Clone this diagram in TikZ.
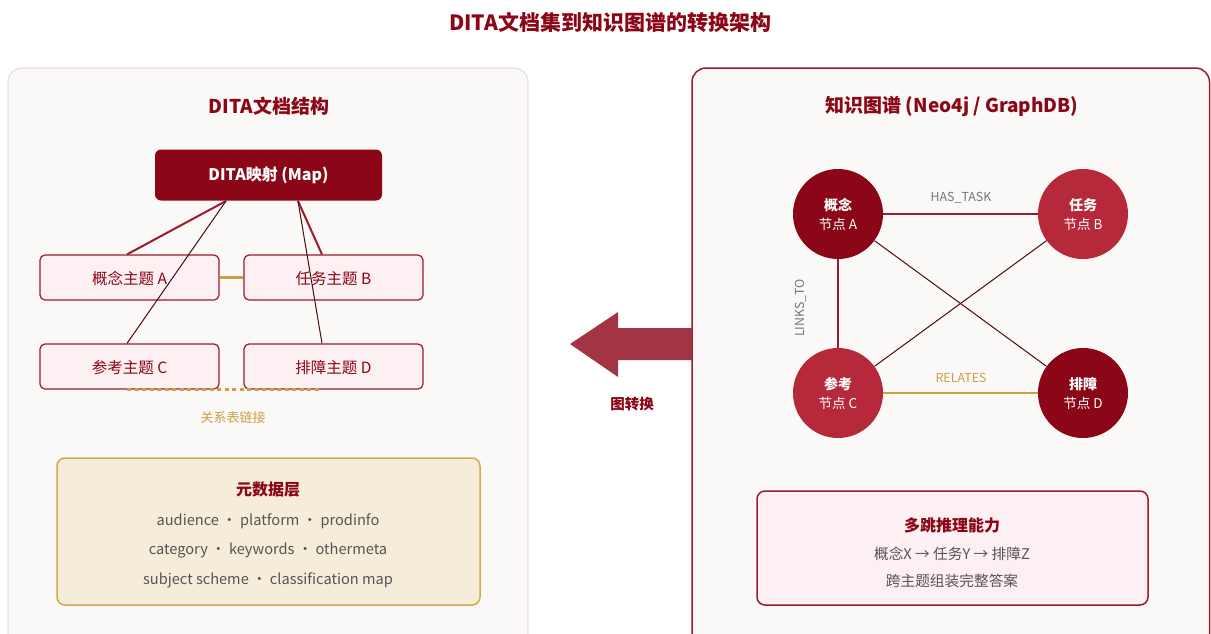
\documentclass[tikz,border=0pt]{standalone}
\usepackage{fontspec}
\setmainfont{Noto Sans CJK SC}
\definecolor{dred}{HTML}{8B0616}
\definecolor{mred}{HTML}{B5293A}
\definecolor{bred}{HTML}{9B1B2A}
\definecolor{gold}{HTML}{C9A045}
\definecolor{goldbd}{HTML}{D4A850}
\definecolor{pinkbg}{HTML}{FCF0F2}
\definecolor{panelbg}{HTML}{FBF9F7}
\definecolor{panelbd}{HTML}{E8DEDC}
\definecolor{metabg}{HTML}{F5ECD9}
\definecolor{txtgray}{HTML}{555555}
\definecolor{lblgray}{HTML}{777777}
\definecolor{arrowred}{HTML}{A23444}
\definecolor{thinline}{HTML}{4A0A12}
\newcommand{\fs}[1]{\fontsize{#1}{#1}\selectfont}
\begin{document}
\begin{tikzpicture}[x=1pt,y=-1pt,
  topicbox/.style={draw=bred,line width=1.2pt,fill=pinkbg,rounded corners=5pt,minimum width=179pt,minimum height=45pt,text=dred,font=\fs{15.5},text depth=0pt},
  kgnode/.style={circle,minimum size=90pt,inner sep=0pt,text=white,align=center,font=\fs{13.5},text depth=0pt},
  thick red/.style={draw=bred,line width=2pt},
  thin dark/.style={draw=thinline,line width=1pt},
  edgelbl/.style={font=\fs{12.4},text=lblgray}
]
\useasboundingbox (0,0) rectangle (1211,633);
\fill[white] (0,0) rectangle (1211,633);
% title
\node[font=\fs{21}\bfseries,text=dred] (title) at (610,22) {DITA文档集到知识图谱的转换架构};
% left panel
\draw[panelbd,fill=panelbg,line width=1.2pt,rounded corners=14pt] (8,68) rectangle (528,660);
\node[font=\fs{19}\bfseries,text=dred] (ltitle) at (269,106) {DITA文档结构};
\node[fill=dred,rounded corners=6pt,minimum width=227pt,minimum height=51pt,text=white,font=\fs{16}\bfseries] (map) at (268.5,175) {DITA映射 (Map)};
\node[topicbox] (ta) at (129.5,277.5) {概念主题 A};
\node[topicbox] (tb) at (333.5,277.5) {任务主题 B};
\node[topicbox] (tc) at (129.5,366.5) {参考主题 C};
\node[topicbox] (td) at (333.5,366.5) {排障主题 D};
\coordinate (mapl) at (226,201);
\coordinate (mapr) at (298,201);
\draw[thick red] (mapl) -- (ta.north -| 127,0);
\draw[thick red] (mapr) -- (tb.north -| 322,0);
\draw[thin dark] (mapl) -- (tc.north -| 127,0);
\draw[thin dark] (mapr) -- (td.north -| 322,0);
\draw[gold,line width=2.2pt] (ta.east) -- (tb.west);
\coordinate (rl1) at (127,389.5);
\coordinate (rl2) at (320,389.5);
\draw[gold,line width=2.2pt,dash pattern=on 4pt off 3.5pt] (rl1) -- (rl2);
\node[font=\fs{13},text=gold] (rtlbl) at (233,418) {关系表链接};
% metadata
\node[draw=goldbd,fill=metabg,line width=1.5pt,rounded corners=8pt,minimum width=423pt,minimum height=147pt] (meta) at (268.5,531.5) {};
\node[font=\fs{16}\bfseries,text=dred] (metat) at (268,489) {元数据层};
\node[font=\fs{14.6},text=txtgray] (m1) at (268,521) {audience ・ platform ・ prodinfo};
\node[font=\fs{14.6},text=txtgray] (m2) at (268,551) {category ・ keywords ・ othermeta};
\node[font=\fs{14.6},text=txtgray] (m3) at (268,580) {subject scheme ・ classification map};
% right panel
\draw[bred,fill=panelbg,line width=1.5pt,rounded corners=14pt] (692,68) rectangle (1209.5,660);
\node[font=\fs{19}\bfseries,text=dred] (rtitle) at (952,106) {知识图谱 (Neo4j / GraphDB)};
% arrow
\fill[arrowred] (570,344) -- (618,312) -- (618,328) -- (692,328) -- (692,360) -- (618,360) -- (618,377) -- cycle;
\node[font=\fs{14.5}\bfseries,text=dred] (arrlbl) at (632,404) {图转换};
% graph nodes
\node[kgnode,fill=dred] (na) at (838,214) {{\fs{14}\bfseries 概念}\\[5pt]节点 A};
\node[kgnode,fill=mred] (nb) at (1083,214) {{\fs{14}\bfseries 任务}\\[5pt]节点 B};
\node[kgnode,fill=mred] (nc) at (838,393) {{\fs{14}\bfseries 参考}\\[5pt]节点 C};
\node[kgnode,fill=dred] (nd) at (1083,393) {{\fs{14}\bfseries 排障}\\[5pt]节点 D};
\draw[thick red] (na) -- (nb);
\draw[thick red] (na) -- (nc);
\draw[gold,line width=2pt] (nc) -- (nd);
\draw[thin dark] (na) -- (nd);
\draw[thin dark] (nb) -- (nc);
\node[edgelbl] (l1) at (961,198) {HAS\_TASK};
\node[edgelbl,rotate=90] (l2) at (801,308) {LINKS\_TO};
\node[font=\fs{12.4},text=gold] (l3) at (961,378) {RELATES};
% reasoning box
\node[draw=bred,fill=pinkbg,line width=1.5pt,rounded corners=8pt,minimum width=391pt,minimum height=114pt] (rbox) at (952.5,548) {};
\node[font=\fs{16}\bfseries,text=dred] (rt) at (952,525) {多跳推理能力};
\node[font=\fs{14.7},text=txtgray] (r1) at (952,554) {概念X → 任务Y → 排障Z};
\node[font=\fs{14.7},text=txtgray] (r2) at (952,581) {跨主题组装完整答案};
\end{tikzpicture}
\end{document}
